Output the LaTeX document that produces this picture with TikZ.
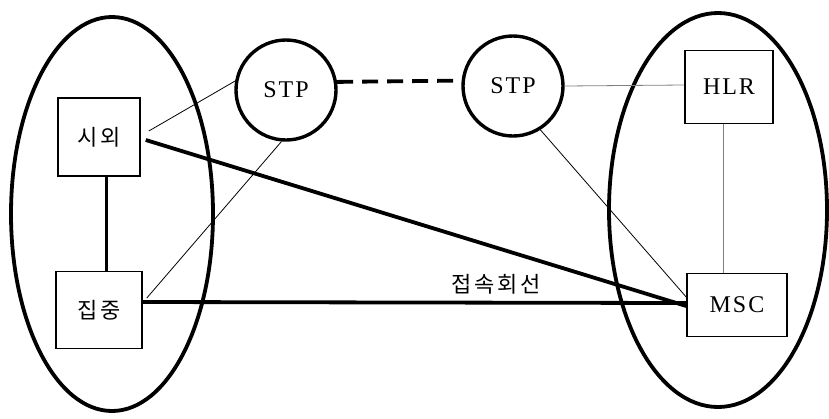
\documentclass[tikz,border=0pt]{standalone}
\usepackage{fontspec}
\setmainfont{Liberation Serif}
\newfontfamily\kor[LetterSpace=12]{Noto Sans CJK KR}
\newfontfamily\lat[LetterSpace=8]{Liberation Serif}
\usetikzlibrary{shapes.geometric}
\begin{document}
\begin{tikzpicture}[x=1pt,y=-1pt,
  grp/.style={ellipse,draw,line width=3.8pt,inner sep=0pt},
  stpc/.style={circle,draw,line width=3.4pt,minimum size=100pt,inner sep=0pt,font=\lat\fontsize{24}{27}\selectfont},
  boxk/.style={rectangle,draw,line width=1.6pt,inner sep=0pt,font=\kor\fontsize{22}{25}\selectfont},
  boxl/.style={rectangle,draw,line width=1.6pt,inner sep=0pt,font=\lat\fontsize{24}{27}\selectfont},
  thin/.style={line width=0.8pt},
  thick/.style={line width=3.8pt},
  lbl/.style={font=\kor\fontsize{22}{25}\selectfont}]
\useasboundingbox (0,0) rectangle (829,418);
% groups
\node[grp,minimum width=202pt,minimum height=394pt] (elL) at (112,214) {};
\node[grp,minimum width=218pt,minimum height=394pt] (elR) at (718,210) {};
% boxes
\node[boxk,minimum width=82pt,minimum height=78pt] (sioe) at (99,137) {시외};
\node[boxk,minimum width=86pt,minimum height=77pt] (jip) at (99,310) {집중};
\node[boxl,minimum width=88pt,minimum height=73pt] (hlr) at (729,87) {HLR};
\node[boxl,minimum width=100pt,minimum height=63pt] (msc) at (737,305) {MSC};
% STPs
\node[stpc] (stp1) at (286,90) {STP};
\node[stpc] (stp2) at (513,86) {STP};
% connectors
\draw[line width=3pt] ([xshift=7pt]sioe.south) -- ([xshift=7pt]jip.north);
\draw[thin] ([xshift=8pt,yshift=6pt]sioe.east) -- (stp1.170);
\draw[thin] ([xshift=4pt,yshift=12pt]jip.east) -- (stp1.265);
\draw[thick] ([xshift=5pt,yshift=-3pt]sioe.east) -- ([yshift=-1pt]msc.west);
\draw[thick] ([yshift=8pt]jip.east) -- ([yshift=2pt]msc.west);
\draw[line width=3.8pt,dash pattern=on 16pt off 9pt] (stp1.9) -- (stp2.174);
\draw[thin,gray] (stp2.east) -- ([yshift=2pt]hlr.west);
\draw[thin,gray] ([xshift=-6pt]hlr.south) -- ([xshift=-14pt]msc.north);
\draw[thin] (stp2.302) -- ([yshift=8pt]msc.west);
% label
\node[lbl] (conn) at (496,284) {접속회선};
\end{tikzpicture}
\end{document}
